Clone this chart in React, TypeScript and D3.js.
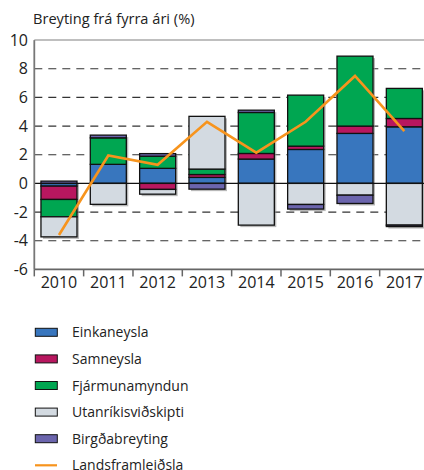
import React from "react";
import * as d3 from "d3";

const years = ["2010", "2011", "2012", "2013", "2014", "2015", "2016", "2017"];
const seriesNames = ["Einkaneysla", "Samneysla", "Fjármunamyndun", "Utanríkisviðskipti", "Birgðabreyting"];
const einkaneysla = [-0.19, 1.33, 1.05, 0.42, 1.7, 2.37, 3.49, 3.95];
const samneysla = [-0.93, 0.0, -0.42, 0.2, 0.39, 0.23, 0.51, 0.58];
const fjarmunamyndun = [-1.21, 1.85, 0.85, 0.38, 2.86, 3.56, 4.88, 2.1];
const utanrikis = [-1.4, -1.46, -0.33, 3.68, -2.91, -1.47, -0.82, -2.91];
const birgda = [0.16, 0.19, 0.18, -0.4, 0.16, -0.32, -0.58, -0.1];
const landsframleidsla = [-3.6, 1.95, 1.3, 4.3, 2.15, 4.3, 7.5, 3.65];
const yTicks = [10, 8, 6, 4, 2, 0, -2, -4, -6];
const gridTicks = [8, 6, 4, 2, -2, -4];
const colors = ["#3876be", "#b8175f", "#00a651", "#d3dae1", "#6b65ad"];
const lineColor = "#f7941d";
const lineName = "Landsframleiðsla";
const title = "Breyting frá fyrra ári (%)";

export default function App() {
  const font = "'Open Sans', sans-serif";
  const x = d3.scaleBand<string>().domain(years).range([34.3, 429]).paddingInner(0.27).paddingOuter(0.135);
  const y = d3.scaleLinear().domain([-6, 10]).range([269.4, 40.1]);
  const vals = [einkaneysla, samneysla, fjarmunamyndun, utanrikis, birgda];
  const table = years.map((yr, i) => {
    const o: any = { year: yr };
    seriesNames.forEach((k, j) => (o[k] = vals[j][i]));
    return o;
  });
  const stacked = d3.stack<any>().keys(seriesNames).offset(d3.stackOffsetDiverging)(table);
  const bw = x.bandwidth();
  const line = d3
    .line<number>()
    .x((_, i) => (x(years[i]) as number) + bw / 2)
    .y((d) => y(d));
  const extents = years.map((_, i) => {
    let lo = 0, hi = 0;
    stacked.forEach((s) => {
      lo = Math.min(lo, s[i][0], s[i][1]);
      hi = Math.max(hi, s[i][0], s[i][1]);
    });
    return [lo, hi];
  });
  const boundaries = years.map((yr) => (x(yr) as number) - (x.step() * x.paddingInner()) / 2);
  const legendY0 = 332.3;
  const legendStep = 26.6;
  return (
    <svg width={424} height={470} style={{ position: "absolute", left: 0, top: 0 }} fontFamily={font}>
      <rect width={424} height={470} fill="#fff" />
      <text x={33} y={24} fontSize={14.6} fill="#222">{title}</text>
      {/* top line */}
      <line x1={34.3} x2={424} y1={y(10)} y2={y(10)} stroke="#aaa" strokeWidth={1.5} />
      {/* grid */}
      {gridTicks.map((t) => (
        <line key={t} x1={34.3} x2={424} y1={y(t)} y2={y(t)} stroke="#333" strokeWidth={1.2} strokeDasharray="8,6" />
      ))}
      {/* y labels */}
      {yTicks.map((t) => (
        <text key={t} x={28} y={y(t) + 5.7} fontSize={16} textAnchor="end" fill="#222">{t}</text>
      ))}
      {/* shadows */}
      {years.map((yr, i) => (
        <rect key={yr} x={(x(yr) as number) + 2} y={y(extents[i][1]) + 2} width={bw} height={y(extents[i][0]) - y(extents[i][1])} fill="#888" opacity={0.6} />
      ))}
      {/* bars */}
      {stacked.map((s, j) => (
        <g key={s.key} fill={colors[j]}>
          {s.map((d, i) => {
            const top = Math.max(d[0], d[1]);
            const bot = Math.min(d[0], d[1]);
            return (
              <rect key={i} x={x(years[i])} y={y(top)} width={bw} height={y(bot) - y(top)} stroke="#111" strokeWidth={1.3} />
            );
          })}
        </g>
      ))}
      {/* zero line */}
      <line x1={34.3} x2={424} y1={y(0)} y2={y(0)} stroke="#111" strokeWidth={1.2} />
      {/* axes */}
      <line x1={34.3} x2={34.3} y1={y(10)} y2={y(-6)} stroke="#777" strokeWidth={1.8} />
      <line x1={34.3} x2={424} y1={y(-6)} y2={y(-6)} stroke="#666" strokeWidth={1.8} />
      {boundaries.map((b, i) => (
        <line key={i} x1={b} x2={b} y1={y(-6)} y2={y(-6) + 7} stroke="#666" strokeWidth={1.5} />
      ))}
      {years.map((yr) => (
        <text key={yr} x={(x(yr) as number) + bw / 2} y={288} fontSize={16} textAnchor="middle" fill="#222">{yr}</text>
      ))}
      {/* line */}
      <path d={line(landsframleidsla) as string} fill="none" stroke={lineColor} strokeWidth={2.6} strokeLinejoin="miter" />
      {/* legend */}
      {seriesNames.map((n, j) => (
        <g key={n}>
          <rect x={35.3} y={legendY0 + j * legendStep - 4} width={22} height={8} fill={colors[j]} stroke="#111" strokeWidth={1} />
          <text x={72} y={legendY0 + j * legendStep + 5} fontSize={14} fill="#222">{n}</text>
        </g>
      ))}
      <line x1={35} x2={57} y1={legendY0 + 5 * legendStep} y2={legendY0 + 5 * legendStep} stroke={lineColor} strokeWidth={2.2} />
      <text x={72} y={legendY0 + 5 * legendStep + 5} fontSize={14} fill="#222">{lineName}</text>
    </svg>
  );
}
